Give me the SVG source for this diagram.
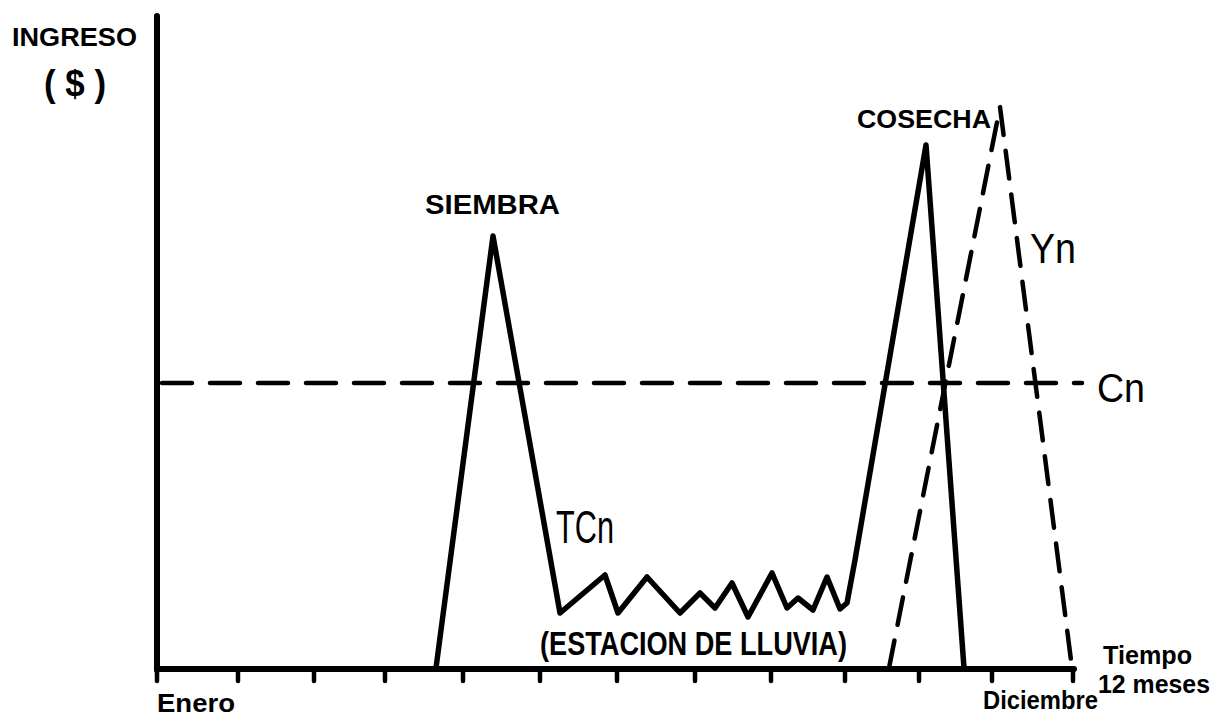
<svg xmlns="http://www.w3.org/2000/svg" width="1217" height="716" viewBox="0 0 1217 716">
<style>
.ax{stroke:#000;stroke-width:6;fill:none;stroke-linecap:round}
.tk{stroke:#000;stroke-width:4.5;stroke-linecap:round}
.sol{stroke:#000;stroke-width:5.5;fill:none;stroke-linejoin:round;stroke-linecap:round}
.dsh{stroke:#000;stroke-width:4.5;fill:none;stroke-linecap:round}
.lb{font-family:"Liberation Sans",Arial,sans-serif;font-weight:bold;fill:#000}
.lr{font-family:"Liberation Sans",Arial,sans-serif;fill:#000}
</style>
<rect width="1217" height="716" fill="#fff"/>
<g id="axes">
<line class="ax" x1="157" y1="16" x2="157" y2="670"/>
<line class="ax" x1="157" y1="669" x2="1074" y2="669"/>
<g id="ticks">
<line class="tk" x1="157" y1="669" x2="157" y2="681"/>
<line class="tk" x1="238" y1="669" x2="238" y2="681"/>
<line class="tk" x1="314" y1="669" x2="314" y2="681"/>
<line class="tk" x1="385" y1="669" x2="385" y2="681"/>
<line class="tk" x1="463" y1="669" x2="463" y2="681"/>
<line class="tk" x1="540" y1="669" x2="540" y2="681"/>
<line class="tk" x1="617" y1="669" x2="617" y2="681"/>
<line class="tk" x1="695" y1="669" x2="695" y2="681"/>
<line class="tk" x1="771" y1="669" x2="771" y2="681"/>
<line class="tk" x1="845" y1="669" x2="845" y2="681"/>
<line class="tk" x1="919" y1="669" x2="919" y2="681"/>
<line class="tk" x1="992" y1="669" x2="992" y2="681"/>
<line class="tk" x1="1073" y1="669" x2="1073" y2="681"/>
</g>
</g>
<g id="connectors">
<path id="tcn" class="sol" d="M436,668 L493,236 L560,613 L605,575 L618,613 L647,577 L680,613 L700,593 L715,608 L732,583 L748,617 L772,573 L787,608 L798,598 L813,610 L827,577 L840,609 L847,603 L855,560 L926,145 L964,668"/>
<line id="cn" class="dsh" x1="162" y1="383" x2="1082" y2="383" stroke-dasharray="30 18"/>
<path id="yn" class="dsh" d="M889,668 L1000,107 L1072,668" stroke-dasharray="28 16"/>
</g>
<g id="labels">
<text class="lb" x="12" y="46" font-size="25" textLength="125" lengthAdjust="spacingAndGlyphs">INGRESO</text>
<text class="lb" x="44" y="96" font-size="36" textLength="62" lengthAdjust="spacingAndGlyphs">( $ )</text>
<text class="lb" x="425" y="214" font-size="27" textLength="135" lengthAdjust="spacingAndGlyphs">SIEMBRA</text>
<text class="lb" x="857" y="128" font-size="26" textLength="134" lengthAdjust="spacingAndGlyphs">COSECHA</text>
<text class="lb" x="540" y="655" font-size="33" textLength="307" lengthAdjust="spacingAndGlyphs">(ESTACION DE LLUVIA)</text>
<text class="lb" x="157" y="712" font-size="25" textLength="78" lengthAdjust="spacingAndGlyphs">Enero</text>
<text class="lb" x="983" y="709" font-size="26" textLength="115" lengthAdjust="spacingAndGlyphs">Diciembre</text>
<text class="lb" x="1103" y="664" font-size="26" textLength="89" lengthAdjust="spacingAndGlyphs">Tiempo</text>
<text class="lb" x="1098" y="693" font-size="26" textLength="112" lengthAdjust="spacingAndGlyphs">12 meses</text>
<text class="lr" x="556" y="543" font-size="46" textLength="58" lengthAdjust="spacingAndGlyphs">TCn</text>
<text class="lr" x="1030" y="263" font-size="42" textLength="46" lengthAdjust="spacingAndGlyphs">Yn</text>
<text class="lr" x="1097" y="402" font-size="41" textLength="48" lengthAdjust="spacingAndGlyphs">Cn</text>
</g>
</svg>
